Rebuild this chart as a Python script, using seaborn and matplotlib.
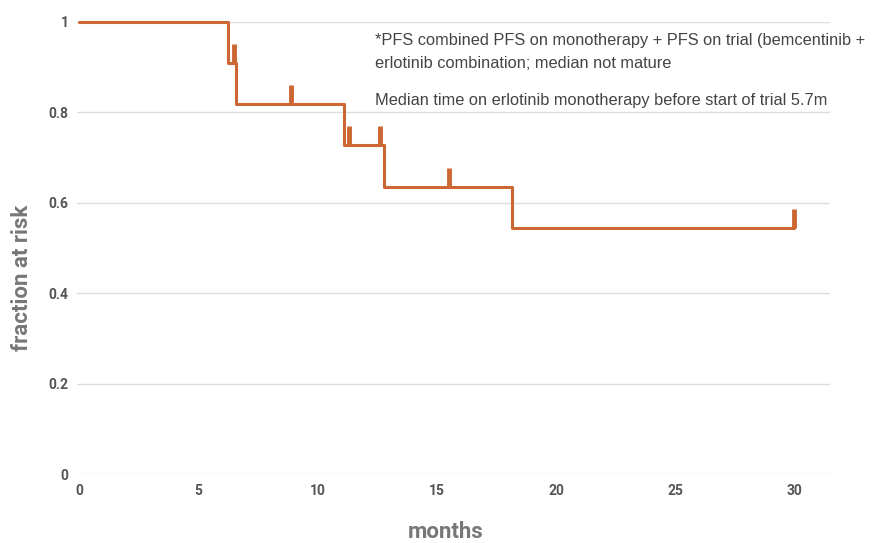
import matplotlib
matplotlib.use("Agg")
import matplotlib.pyplot as plt
import seaborn as sns
import pandas as pd

# Kaplan-Meier step curve: event times (months) and survival fraction after each step
step_times = [0, 6.25, 6.6, 11.1, 12.8, 18.15, 30.0]
step_surv = [1.0, 0.909, 0.818, 0.727, 0.636, 0.545, 0.545]

# Censored observations (months) and the curve level at each
censor_times = [6.5, 8.9, 11.3, 12.6, 15.5, 30.0]
censor_surv = [0.909, 0.818, 0.727, 0.727, 0.636, 0.545]

x_ticks = [0, 5, 10, 15, 20, 25, 30]
y_ticks = [0, 0.2, 0.4, 0.6, 0.8, 1.0]
y_tick_labels = ["0", "0.2", "0.4", "0.6", "0.8", "1"]

notes = [
    "*PFS combined PFS on monotherapy + PFS on trial (bemcentinib +\nerlotinib combination; median not mature",
    "Median time on erlotinib monotherapy before start of trial 5.7m",
]

line_color = "#CC6633"

sns.set_theme(style="white")
plt.rcParams["font.family"] = ["Roboto", "DejaVu Sans"]

fig = plt.figure(figsize=(8.72, 5.43), dpi=100)
ax = fig.add_axes([0.088, 0.127, 0.864, 0.8325])

km = pd.DataFrame({"months": step_times, "surv": step_surv})
sns.lineplot(data=km, x="months", y="surv", drawstyle="steps-post",
             color=line_color, linewidth=2.2, ax=ax, clip_on=False, zorder=3)

# Censor marks: short thick ticks rising from the curve
ax.vlines(censor_times, censor_surv, [s + 0.042 for s in censor_surv],
          color=line_color, linewidth=3.5, zorder=4, clip_on=False)

ax.set_xlim(-0.1, 31.5)
ax.set_ylim(0, 1.0)
ax.set_xticks(x_ticks)
ax.set_xticklabels([str(t) for t in x_ticks])
ax.set_yticks(y_ticks)
ax.set_yticklabels(y_tick_labels)

ax.yaxis.grid(True, color="#DDDDDD", linewidth=1)
ax.xaxis.grid(False)
for side in ["top", "right", "left", "bottom"]:
    ax.spines[side].set_visible(False)
ax.tick_params(axis="both", length=0, labelsize=10, labelcolor="#555555")
ax.tick_params(axis="y", pad=6)
ax.tick_params(axis="x", pad=7)
for lbl in ax.get_yticklabels() + ax.get_xticklabels():
    lbl.set_fontweight("bold")

ax.set_xlabel("months", fontsize=16, fontweight="bold", color="#777777")
ax.set_ylabel("fraction at risk", fontsize=16, fontweight="bold", color="#777777")
ax.xaxis.set_label_coords(0.489, -0.103)
ax.yaxis.set_label_coords(-0.058, 0.435)

note_font = ["Liberation Sans", "DejaVu Sans"]
ax.text(12.4, 0.975, notes[0], fontsize=11.8, color="#444444", family=note_font,
        va="top", ha="left", linespacing=1.65)
ax.text(12.4, 0.843, notes[1], fontsize=11.8, color="#444444", family=note_font,
        va="top", ha="left")

fig.savefig("out.png", dpi=100)
